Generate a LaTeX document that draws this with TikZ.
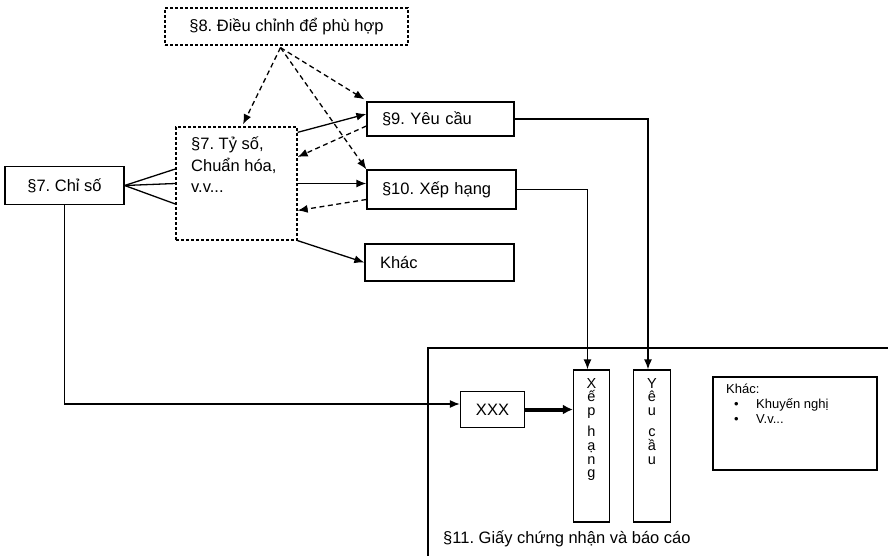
\documentclass[tikz,border=0pt]{standalone}
\usepackage{fontspec}
\setmainfont{Liberation Sans}
\usetikzlibrary{arrows.meta,calc}
\begin{document}
\frenchspacing
\begin{tikzpicture}[x=1pt,y=-1pt,
  font=\fontsize{16.5}{19}\selectfont,
  box/.style={draw,line width=1.3pt,inner sep=0pt,rectangle},
  lbox/.style={box,align=left,inner xsep=15pt},
  dbox/.style={draw,line width=1.3pt,dash pattern=on 3pt off 2pt,inner sep=0pt},
  conn/.style={line width=1.3pt},
  arr/.style={conn,-{Latex[length=10pt,width=8pt]}},
  darr/.style={arr,dash pattern=on 5pt off 3.5pt},
  small/.style={font=\fontsize{13}{15}\selectfont},
  vtext/.style={anchor=north,align=center,inner sep=0pt,font=\fontsize{14.5}{13.6}\selectfont}]
\useasboundingbox (0,0) rectangle (888,556);
\fill[white] (0,0) rectangle (888,556);
% top nodes
\node[dbox,minimum width=243pt,minimum height=37pt] (s8) at (286.5,26.5) {§8. Điều chỉnh để phù hợp};
\node[dbox,minimum width=121pt,minimum height=113pt] (ty) at (236.5,183.5) {};
\node[anchor=north west,align=left,inner sep=0pt,font=\fontsize{16.5}{21.5}\selectfont] (tytext) at (191,137) {§7. Tỷ số,\\Chuẩn hóa,\\v.v...};
\node[box,minimum width=119pt,minimum height=38pt] (chi) at (64.5,185.5) {§7. Chỉ số};
\node[lbox,text width=117pt,minimum height=34pt] (s9) at (440.5,119) {§9. Yêu cầu};
\node[lbox,text width=119pt,minimum height=39pt] (s10) at (441.5,189.5) {§10. Xếp hạng};
\node[lbox,text width=119pt,minimum height=37pt] (khac) at (439.5,262.5) {Khác};
% section 11
\coordinate (c11) at (428,348);
\coordinate (c11r) at (888,348);
\coordinate (c11b) at (428,556);
\draw[conn] (c11r) -- (c11) -- (c11b);
\node[anchor=west,inner sep=0pt] (l11) at (443,539) {§11. Giấy chứng nhận và báo cáo};
\node[box,minimum width=64pt,minimum height=36pt] (xxx) at (492.5,409.5) {XXX};
\node[box,minimum width=36pt,minimum height=152pt] (xh) at (591.5,446) {};
\node[box,minimum width=37pt,minimum height=152pt] (yc) at (652,446) {};
\node[vtext] (xht) at (591.5,378) {X\\ế\\p\\[8pt]h\\ạ\\n\\g};
\node[vtext] (yct) at (652,378) {Y\\ê\\u\\[8pt]c\\ầ\\u};
\node[box,minimum width=164pt,minimum height=93pt] (k2) at (795,423.5) {};
\node[small,anchor=north west,align=left,inner sep=0pt] (k2t) at (726,384) {Khác:\\\makebox[30pt][l]{\hspace{8pt}•}Khuyến nghị\\\makebox[30pt][l]{\hspace{8pt}•}V.v...};
% connectors from chi to ty
\draw[conn] (chi.east) -- ([yshift=14.5pt]ty.west);
\draw[conn] (chi.east) -- (ty.west);
\draw[conn] (chi.east) -- ([yshift=-20.5pt]ty.west);
% ty to right boxes
\draw[arr] ([yshift=-6pt]ty.north east) -- ([yshift=5pt]s9.west);
\draw[darr] ([yshift=-7pt]s9.west) -- ([yshift=26.5pt]ty.east);
\draw[arr] (ty.east) -- (s10.west |- ty.east);
\draw[darr] ([yshift=-10pt]s10.west) -- ([yshift=-27pt]ty.east);
\draw[arr] (ty.south east) -- (khac.west);
% s8 dashed arrows
\draw[darr] ([xshift=-6pt,yshift=-2pt]s8.south) -- ([xshift=6.5pt,yshift=2pt]ty.north);
\draw[darr] ([xshift=-6pt,yshift=-2pt]s8.south) -- ([xshift=-2pt,yshift=2pt]s9.north west);
\draw[darr] ([xshift=-6pt,yshift=-2pt]s8.south) -- (s10.north west);
% to section 11
\draw[arr] (chi.south) |- ([yshift=5.5pt]xxx.west);
\draw[line width=4pt,-{Latex[length=10pt,width=10pt]}] (xxx.east) -- (xh.west |- xxx.east);
\draw[arr] (s10.east) -| ([xshift=-4pt]xh.north);
\draw[arr] (s9.east) -| ([xshift=-4pt]yc.north);
\end{tikzpicture}
\end{document}
